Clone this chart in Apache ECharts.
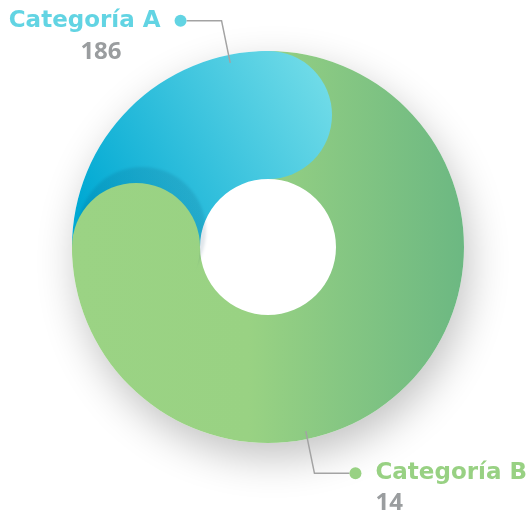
<!DOCTYPE html>
<html>
<head>
<meta charset="utf-8">
<style>
  html, body { margin: 0; padding: 0; background: #fff; }
  #chart { width: 528px; height: 512px; }
</style>
<script src="https://cdn.jsdelivr.net/npm/echarts@6/dist/echarts.min.js"></script>
</head>
<body>
<div id="chart"></div>
<script>
const categories = ['Categoría A', 'Categoría B']
const values = [186, 14]        // numbers printed under the labels
const arcShares = [25, 75]      // part of the ring each arc covers in the drawing
const labelColors = ['#62D4E3', '#98D183']

const center = [268, 247]
const innerR = 68
const outerR = 196
const midR = (innerR + outerR) / 2
const band = outerR - innerR
const total = arcShares.reduce((a, b) => a + b, 0)

// end of every arc along the ring (where the round cap sits)
const arcEnds = []
arcShares.reduce((acc, v, i) => (arcEnds[i] = acc + v), 0)

const gradients = [
  { from: [90, 220], to: [330, 80], stops: [{ offset: 0, color: '#00A9D3' }, { offset: 1, color: '#72DCE8' }] },
  { from: [72, 0], to: [464, 0], stops: [{ offset: 0, color: '#9BD384' }, { offset: 0.45, color: '#99D283' }, { offset: 1, color: '#6CB882' }] }
]

function globalGrad(g) {
  return new echarts.graphic.LinearGradient(g.from[0], g.from[1], g.to[0], g.to[1], g.stops, true)
}
// same gradient expressed in the box of a cap symbol centred at px
function capGrad(g, px) {
  const x = px[0] - band / 2
  const y = px[1] - band / 2
  return new echarts.graphic.LinearGradient(
    (g.from[0] - x) / band, (g.from[1] - y) / band,
    (g.to[0] - x) / band, (g.to[1] - y) / band, g.stops)
}

function labelFor(i) {
  const left = i === 0
  const color = labelColors[i]
  const align = left ? 'right' : 'left'
  return {
    width: left ? 190 : 180,
    padding: left ? [34, 0, 0, 0] : [32, 0, 0, 0],
    formatter: left
      ? '{name|{b}}{gap|}{dot|}\n{val|{c}}{tail|}'
      : '{dot|}{gap|}{name|{b}}\n{lead|}{val|{c}}',
    rich: {
      name: { color: color, fontFamily: 'DejaVu Sans', fontWeight: 700, fontSize: 23, lineHeight: 28, align: align },
      val: { color: '#9A9D9F', fontFamily: 'Open Sans', fontWeight: 700, fontSize: 24, lineHeight: left ? 34 : 32, align: align },
      dot: { width: 12, height: 12, borderRadius: 6, backgroundColor: color, align: align },
      gap: { width: 14, align: align },
      tail: { width: 65, align: align },
      lead: { width: 26, align: align }
    }
  }
}

const chart = echarts.init(document.getElementById('chart'))

chart.setOption({
  animation: false,
  polar: { center: center, radius: outerR },
  angleAxis: { type: 'value', min: 0, max: total, startAngle: 180, clockwise: true, show: false },
  radiusAxis: { type: 'value', min: 0, max: outerR, show: false },
  series: [
    {
      // soft drop shadow under the whole ring
      type: 'pie',
      z: 1,
      silent: true,
      center: center,
      radius: [0, outerR],
      label: { show: false },
      labelLine: { show: false },
      itemStyle: { color: '#fff', shadowBlur: 40, shadowColor: 'rgba(0,0,0,0.24)', shadowOffsetX: 5, shadowOffsetY: 15 },
      data: [{ value: total }]
    },
    {
      type: 'pie',
      z: 2,
      silent: true,
      center: center,
      radius: [innerR, outerR],
      startAngle: 180,
      clockwise: true,
      label: { show: false },
      labelLine: { show: false },
      data: categories.map((c, i) => ({ name: c, value: arcShares[i], itemStyle: { color: globalGrad(gradients[i]) } }))
    },
    {
      // round caps at the end of each arc
      type: 'scatter',
      coordinateSystem: 'polar',
      z: 3,
      silent: true,
      symbol: 'circle',
      symbolSize: band,
      data: arcEnds.map(e => [midR, e])
    },
    {
      // invisible pie carrying the labels for the printed values
      type: 'pie',
      z: 4,
      silent: true,
      center: center,
      radius: [innerR, 188],
      startAngle: -91,
      clockwise: true,
      avoidLabelOverlap: false,
      itemStyle: { color: 'rgba(0,0,0,0)' },
      label: { show: true, position: 'outside', alignTo: 'none', distanceToLabelLine: 0, bleedMargin: 0 },
      labelLine: { show: true, length: 43, length2: 35, smooth: false, lineStyle: { color: '#A3A3A3', width: 1.5 } },
      data: categories.map((c, i) => ({ name: c, value: values[i], label: labelFor(i) }))
    }
  ]
})

// colour the caps with the same gradients as the arcs
const capData = arcEnds.map((e, i) => {
  const px = chart.convertToPixel({ seriesIndex: 2 }, [midR, e])
  const style = { color: capGrad(gradients[i], px), opacity: 1 }
  if (i === 1) {
    Object.assign(style, { shadowBlur: 3, shadowColor: 'rgba(0,50,90,0.12)', shadowOffsetX: 6, shadowOffsetY: -16 })
  }
  return { value: [midR, e], itemStyle: style }
})
chart.setOption({ series: [{}, {}, { data: capData }, {}] })
</script>
</body>
</html>
